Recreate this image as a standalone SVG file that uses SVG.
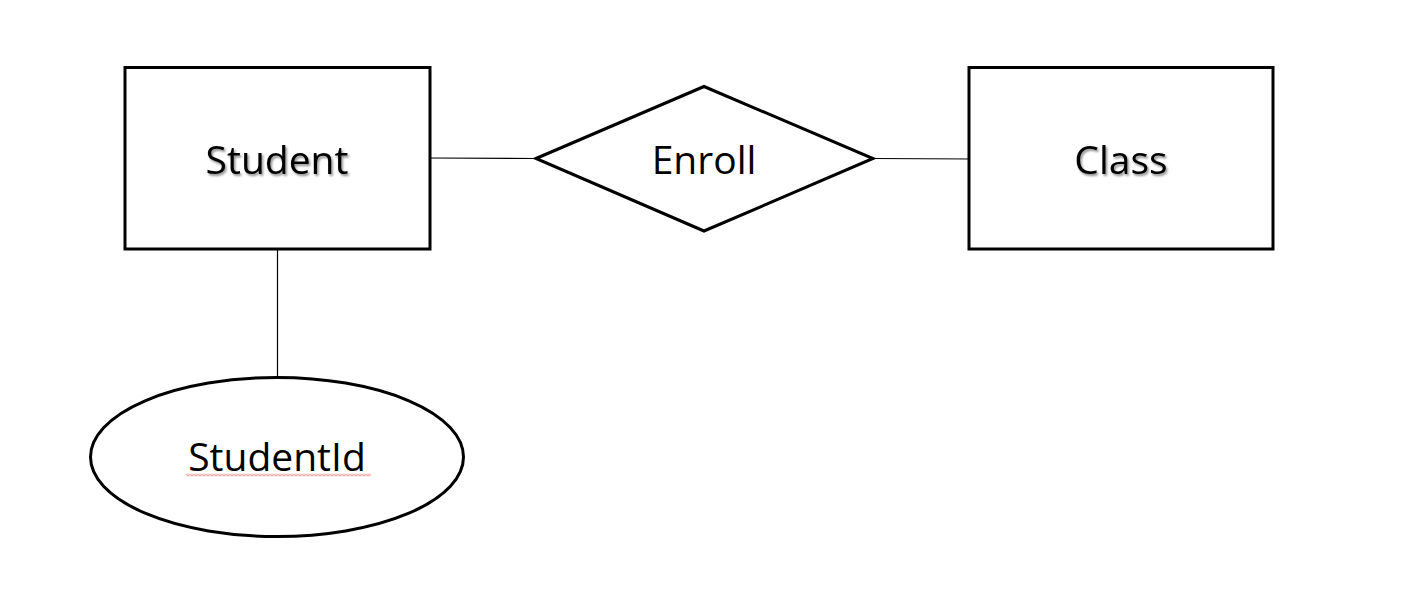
<svg xmlns="http://www.w3.org/2000/svg" width="1422" height="609" viewBox="0 0 1422 609">
  <defs>
    <filter id="shadow" x="-10%" y="-20%" width="130%" height="150%">
      <feDropShadow dx="1.5" dy="2" stdDeviation="1.2" flood-color="#000" flood-opacity="0.45"/>
    </filter>
    <pattern id="squiggle" x="186" y="473.5" width="4" height="3" patternUnits="userSpaceOnUse">
      <polyline points="0,0.5 2,2.5 4,0.5" fill="none" stroke="#e03030" stroke-width="0.9"/>
    </pattern>
  </defs>
  <style>
    .shape { fill: #fff; stroke: #000; stroke-width: 3; }
    .label { font-family: "Open Sans", "Noto Sans", "Liberation Sans", sans-serif; font-size: 39px; fill: #000; text-anchor: middle; }
    .conn { stroke: #000; stroke-width: 1.2; fill: none; }
  </style>
  <rect width="1422" height="609" fill="#fff"/>
  <g id="connectors">
    <line class="conn" x1="430" y1="158" x2="536" y2="158.5"/>
    <line class="conn" x1="873" y1="158.5" x2="974" y2="159" stroke="#555"/>
    <line class="conn" x1="277.5" y1="249" x2="277.5" y2="378"/>
  </g>
  <g id="student">
    <rect class="shape" x="125" y="67.5" width="305" height="181.5"/>
    <text class="label" x="277" y="174" filter="url(#shadow)">Student</text>
  </g>
  <g id="enroll">
    <polygon class="shape" points="536,158.5 704,86.5 873,158.5 704,231"/>
    <text class="label" x="704" y="174">Enroll</text>
  </g>
  <g id="class">
    <rect class="shape" x="969" y="67.5" width="304" height="181.5"/>
    <text class="label" x="1121" y="174" filter="url(#shadow)">Class</text>
  </g>
  <g id="studentid">
    <ellipse class="shape" cx="277" cy="457" rx="186.5" ry="79.5"/>
    <text class="label" x="277" y="471">StudentId</text>
    <rect x="186" y="473.5" width="185" height="3" fill="url(#squiggle)"/>
  </g>
</svg>
